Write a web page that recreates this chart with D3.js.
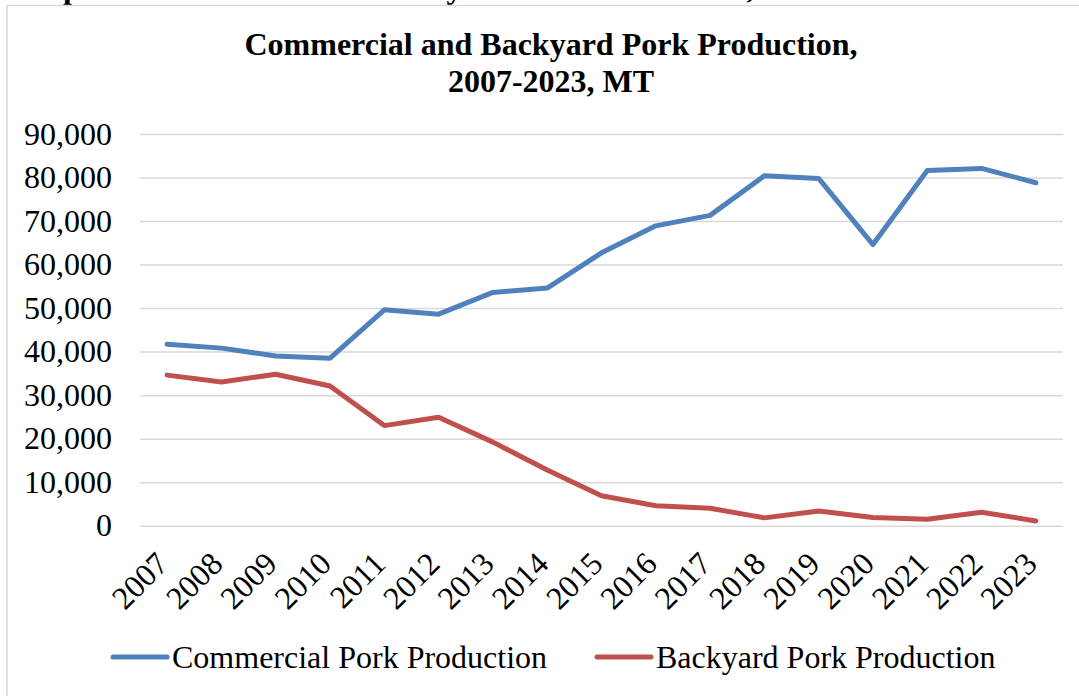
<!DOCTYPE html>
<html>
<head>
<meta charset="utf-8">
<script src="https://cdn.jsdelivr.net/npm/d3@7"></script>
<style>
  html, body { margin: 0; padding: 0; background: #ffffff; }
  svg { display: block; }
  text { font-family: "Liberation Serif", "Times New Roman", Times, serif; fill: #000; }
</style>
</head>
<body>
<svg id="chart" width="1079" height="696"></svg>
<script>
// Pork production in metric tonnes, by year
const years = ["2007","2008","2009","2010","2011","2012","2013","2014","2015",
               "2016","2017","2018","2019","2020","2021","2022","2023"];
const commercial = [41700, 40800, 39000, 38500, 49600, 48600, 53600, 54600, 62700,
                    68900, 71300, 80400, 79800, 64600, 81600, 82100, 78800];
const backyard   = [34600, 33000, 34800, 32100, 23000, 24900, 19200, 12800, 6900,
                    4600, 4000, 1800, 3400, 1900, 1500, 3100, 1100];
const yTicks = [0, 10000, 20000, 30000, 40000, 50000, 60000, 70000, 80000, 90000];
const seriesNames = ["Commercial Pork Production", "Backyard Pork Production"];
const seriesColors = ["#4F81BD", "#C0504D"];

const svg = d3.select("#chart");
const FONT = 32;

// caption line sitting above the chart frame
svg.append("text")
  .attr("x", 8).attr("y", -2.5)
  .style("font-size", FONT + "px").style("font-weight", "bold")
  .text("Graph 3: Commercial and Backyard Pork Production, 2007-2023");

// chart frame (extends beyond the right and bottom edges)
svg.append("rect")
  .attr("x", 7).attr("y", 5.5)
  .attr("width", 1100).attr("height", 720)
  .attr("fill", "#fff").attr("stroke", "#D9D9D9").attr("stroke-width", 1.5);

// title
const title = svg.append("text")
  .attr("text-anchor", "middle")
  .style("font-size", FONT + "px").style("font-weight", "bold");
title.append("tspan").attr("x", 551).attr("y", 55).text("Commercial and Backyard Pork Production,");
title.append("tspan").attr("x", 551).attr("y", 92).text("2007-2023, MT");

const plotLeft = 140, plotRight = 1063, plotTop = 134, plotBottom = 525.7;

const x = d3.scaleBand().domain(years).range([plotLeft, plotRight]).padding(0);
const y = d3.scaleLinear().domain([0, 90000]).range([plotBottom, plotTop]);
const cx = d => x(d) + x.bandwidth() / 2;

// gridlines + y labels
const yAxis = svg.append("g")
  .attr("transform", `translate(${plotLeft},0)`)
  .call(d3.axisLeft(y).tickValues(yTicks).tickFormat(d3.format(","))
        .tickSize(-(plotRight - plotLeft)).tickPadding(28));
yAxis.select(".domain").remove();
yAxis.selectAll(".tick line").attr("stroke", "#D9D9D9").attr("stroke-width", 1.5);
yAxis.selectAll(".tick text")
  .style("font-size", FONT + "px")
  .style("font-family", '"Liberation Serif", "Times New Roman", serif')
  .attr("fill", "#000");

// x labels, rotated
const xAxis = svg.append("g")
  .attr("transform", `translate(0,${plotBottom})`)
  .call(d3.axisBottom(x).tickSize(0));
xAxis.select(".domain").remove();
xAxis.selectAll(".tick text")
  .attr("x", 0).attr("y", 0).attr("dy", 0)
  .attr("text-anchor", "end")
  .attr("transform", "translate(3,40) rotate(-45)")
  .style("font-size", FONT + "px")
  .style("font-family", '"Liberation Serif", "Times New Roman", serif')
  .attr("fill", "#000");

// series lines
const line = d3.line().x((d, i) => cx(years[i])).y(d => y(d));
[commercial, backyard].forEach((vals, k) => {
  svg.append("path")
    .datum(vals)
    .attr("d", line)
    .attr("fill", "none")
    .attr("stroke", seriesColors[k])
    .attr("stroke-width", 5)
    .attr("stroke-linejoin", "round")
    .attr("stroke-linecap", "round");
});

// legend
const legendX = [113, 597];
const legend = svg.append("g");
seriesNames.forEach((name, k) => {
  legend.append("line")
    .attr("x1", legendX[k]).attr("x2", legendX[k] + 54)
    .attr("y1", 657).attr("y2", 657)
    .attr("stroke", seriesColors[k]).attr("stroke-width", 5)
    .attr("stroke-linecap", "round");
  legend.append("text")
    .attr("x", legendX[k] + 59).attr("y", 668)
    .style("font-size", FONT + "px")
    .text(name);
});
</script>
</body>
</html>
